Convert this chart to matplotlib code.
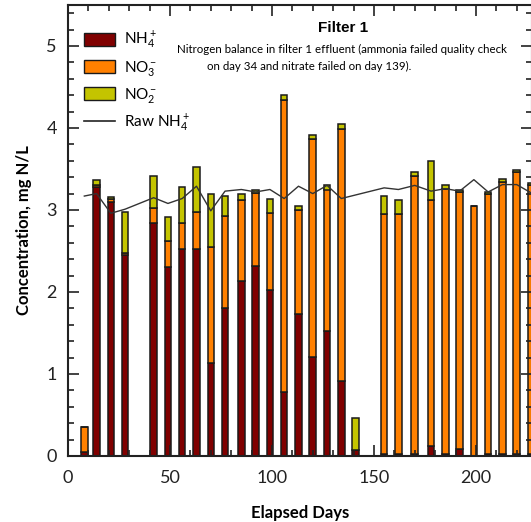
import matplotlib.pyplot as plt
from matplotlib.ticker import MultipleLocator
from matplotlib.patches import Patch
from matplotlib.lines import Line2D

plt.rcParams['font.family'] = ['Lato', 'DejaVu Sans']
plt.rcParams['mathtext.fontset'] = 'custom'
plt.rcParams['mathtext.rm'] = 'Lato'
plt.rcParams['mathtext.it'] = 'Lato:italic'
plt.rcParams['mathtext.bf'] = 'Lato:bold'

# Sample days and nitrogen species (mg N/L)
days = [8, 14, 21, 28, 42, 49, 56, 63, 70, 77, 85, 92, 99, 106, 113, 120, 127, 134, 141,
        155, 162, 170, 178, 185, 192, 199, 206, 213, 220, 227]
nh4 = [0.05, 3.28, 3.10, 2.45, 2.84, 2.30, 2.52, 2.52, 1.13, 1.81, 2.13, 2.32, 2.02, 0.78, 1.73,
       1.21, 1.53, 0.91, 0.07, 0.03, 0.03, 0.03, 0.12, 0.02, 0.09, 0.0, 0.02, 0.02, 0.02, 0.02]
no3 = [0.30, 0.03, 0.03, 0.02, 0.19, 0.32, 0.32, 0.46, 1.42, 1.12, 0.99, 0.89, 0.94, 3.56, 1.27,
       2.65, 1.72, 3.08, 0.0, 2.92, 2.92, 3.39, 3.00, 3.24, 3.13, 3.05, 3.17, 3.32, 3.44, 3.28]
no2 = [0.0, 0.05, 0.03, 0.50, 0.38, 0.30, 0.44, 0.54, 0.64, 0.24, 0.07, 0.04, 0.17, 0.06, 0.05,
       0.05, 0.06, 0.06, 0.39, 0.22, 0.17, 0.04, 0.48, 0.04, 0.02, 0.0, 0.03, 0.04, 0.03, 0.03]

# Raw influent ammonia
raw_days = [8, 14, 21, 28, 42, 49, 56, 63, 70, 77, 85, 92, 99, 106, 113, 120, 127, 134,
            155, 162, 170, 178, 185, 192, 199, 206, 213, 220, 227]
raw_nh4 = [3.17, 3.20, 2.96, 3.01, 3.15, 3.08, 3.14, 3.29, 2.99, 3.23, 3.25, 3.22, 3.25, 3.14,
           3.29, 3.20, 3.30, 3.14, 3.27, 3.25, 3.30, 3.23, 3.26, 3.23, 3.37, 3.22, 3.31, 3.31, 3.21]

c_nh4, c_no3, c_no2 = '#800000', '#ff8000', '#c4c400'
edge = '#1a1a1a'

fig = plt.figure(figsize=(5.31, 5.22), dpi=100)
ax = fig.add_axes([68 / 531, 66 / 522, 464 / 531, 451 / 522])

bottom2 = [a + b for a, b in zip(nh4, no3)]
ax.bar(days, nh4, width=3.2, color=c_nh4, edgecolor=edge, linewidth=1.1)
ax.bar(days, no3, width=3.2, bottom=nh4, color=c_no3, edgecolor=edge, linewidth=1.1)
ax.bar(days, no2, width=3.2, bottom=bottom2, color=c_no2, edgecolor=edge, linewidth=1.1)
ax.plot(raw_days, raw_nh4, color='#333333', linewidth=1.0)

ax.set_xlim(0, 227.5)
ax.set_ylim(0, 5.5)
ax.xaxis.set_major_locator(MultipleLocator(50))
ax.xaxis.set_minor_locator(MultipleLocator(10))
ax.yaxis.set_major_locator(MultipleLocator(1))
ax.yaxis.set_minor_locator(MultipleLocator(0.2))
ax.tick_params(which='both', direction='in', top=True, right=True, colors='#222222', labelsize=13)
ax.tick_params(which='major', length=8, width=1.2)
ax.tick_params(which='minor', length=4, width=1.2)
ax.tick_params(axis='x', pad=10)
ax.tick_params(axis='y', pad=8)
for s in ax.spines.values():
    s.set_linewidth(1.5)
    s.set_color('#222222')

ax.set_xlabel('Elapsed Days', fontsize=12, fontweight='bold', labelpad=14)
ax.set_ylabel('Concentration, mg N/L', fontsize=12, fontweight='bold', labelpad=10)

handles = [Patch(facecolor=c_nh4, edgecolor=edge), Patch(facecolor=c_no3, edgecolor=edge),
           Patch(facecolor=c_no2, edgecolor=edge), Line2D([], [], color='#222222', linewidth=1.2)]
labels = [r'NH$_4^+$', r'NO$_3^-$', r'NO$_2^-$', r'Raw NH$_4^+$']
ax.legend(handles, labels, loc='upper left', bbox_to_anchor=(0.005, 0.975), frameon=False,
          fontsize=11, handlelength=2.0, handleheight=0.9, labelspacing=0.5, handletextpad=0.6)

fig.text(343 / 531, 1 - 28 / 522, 'Filter 1', fontsize=11, fontweight='bold', ha='center',
         va='center', family='Liberation Sans')
fig.text(342 / 531, 1 - 49 / 522,
         'Nitrogen balance in filter 1 effluent (ammonia failed quality check',
         fontsize=8.3, ha='center', va='center')
fig.text(207 / 531, 1 - 66 / 522, 'on day 34 and nitrate failed on day 139).',
         fontsize=8.3, ha='left', va='center')

fig.savefig('out.png', dpi=100)
